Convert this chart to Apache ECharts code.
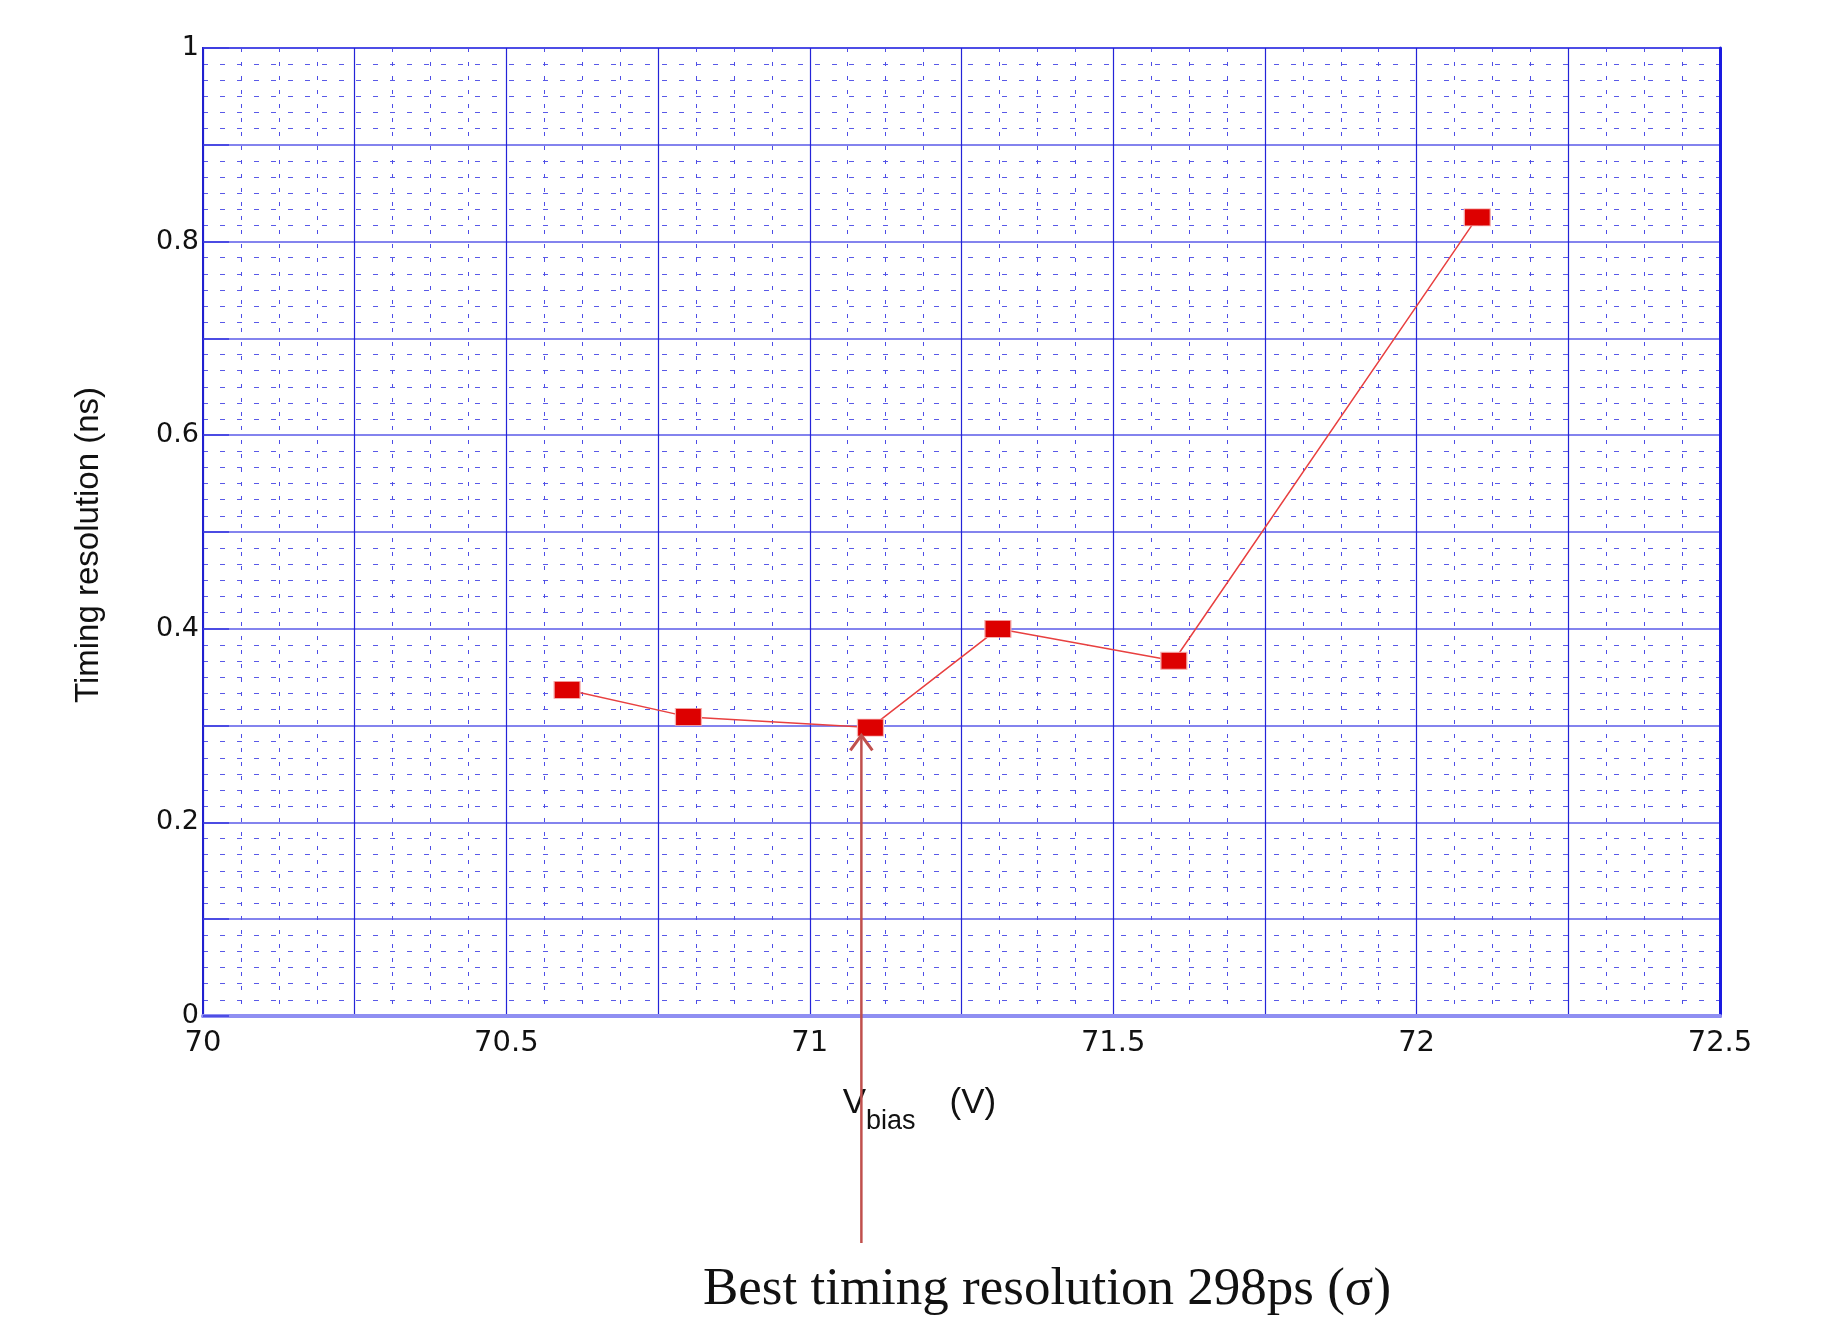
<!DOCTYPE html>
<html>
<head>
<meta charset="utf-8">
<script src="https://cdn.jsdelivr.net/npm/echarts@6/dist/echarts.min.js"></script>
<style>
  html, body { margin: 0; padding: 0; background: #fff; }
  #chart { width: 1831px; height: 1321px; }
</style>
</head>
<body>
<div id="chart"></div>
<script>
// bias voltage (V) and timing resolution (ns)
const vbias = [70.6, 70.8, 71.1, 71.31, 71.6, 72.1];
const timing = [0.337, 0.309, 0.298, 0.400, 0.367, 0.825];

const xTickLabels = ['70', '70.5', '71', '71.5', '72', '72.5'];
const yTickLabels = ['0', '0.2', '0.4', '0.6', '0.8', '1'];

// arrow pointing at the best point: [x, y tip]
const arrowAt = [71.085, 0.29];
const noteText = 'Best timing resolution 298ps (\u03c3)';

const chart = echarts.init(document.getElementById('chart'));

const tickFont = '"DejaVu Sans", "Liberation Sans", sans-serif';

function pickLabel(list) {
  return (v) => {
    const s = String(+(+v).toFixed(3));
    return list.includes(s) ? s : '';
  };
}

const option = {
  animation: false,
  backgroundColor: '#fff',
  grid: {
    left: 203, right: 111, top: 48, bottom: 305,
    show: true, borderColor: '#2a2ade', borderWidth: 2
  },
  xAxis: [{
    type: 'value',
    min: 70, max: 72.5, interval: 0.25,
    name: '{v|V}{s|bias}{u|(V)}',
    nameLocation: 'middle',
    nameGap: 68,
    nameTextStyle: {
      padding: [0, 84, 0, 0],
      rich: {
        v: { fontFamily: 'Liberation Sans', fontSize: 35, lineHeight: 38, color: '#111' },
        s: { fontFamily: 'Liberation Sans', fontSize: 27, lineHeight: 26, color: '#111', padding: [38, 34, 0, 0] },
        u: { fontFamily: 'Liberation Sans', fontSize: 35, lineHeight: 38, color: '#111' }
      }
    },
    axisLine: { show: true, onZero: false, lineStyle: { color: '#6a6af0', width: 3 } },
    axisTick: { show: false },
    axisLabel: {
      formatter: pickLabel(xTickLabels),
      fontFamily: tickFont, fontSize: 29, color: '#111', margin: 13
    },
    splitLine: { show: true, lineStyle: { color: '#2424d8', width: 1.2 } },
    minorTick: { show: false, splitNumber: 4 },
    minorSplitLine: { show: true, lineStyle: { color: '#4d4de6', width: 1, type: [4, 10] } }
  }, {
    type: 'value', position: 'top',
    min: 70, max: 72.5,
    axisLine: { show: true, lineStyle: { color: '#8f8ff2', width: 4 } },
    axisTick: { show: false }, axisLabel: { show: false }, splitLine: { show: false }
  }],
  yAxis: [{
    type: 'value',
    min: 0, max: 1, interval: 0.1,
    name: 'Timing resolution (ns)',
    nameLocation: 'middle',
    nameGap: 98,
    nameTextStyle: {
      fontFamily: '"Liberation Sans Narrow", "Liberation Sans", sans-serif',
      fontSize: 33, color: '#111', padding: [0, 26, 0, 0]
    },
    axisLine: { show: true, lineStyle: { color: '#2020d0', width: 2 } },
    axisTick: { show: true, inside: true, length: 26, lineStyle: { color: '#3a3ae0', width: 1.5 } },
    axisLabel: {
      formatter: pickLabel(yTickLabels),
      fontFamily: tickFont, fontSize: 27, color: '#111', margin: 4
    },
    splitLine: { show: true, lineStyle: { color: '#5a5ae8', width: 1.5 } },
    minorTick: { show: false, splitNumber: 6 },
    minorSplitLine: { show: true, lineStyle: { color: '#5a5ae8', width: 1, type: [5, 12] } }
  }, {
    type: 'value', position: 'right',
    min: 0, max: 1,
    axisLine: { show: true, lineStyle: { color: '#1a1ae0', width: 3 } },
    axisTick: { show: false }, axisLabel: { show: false }, splitLine: { show: false }
  }],
  series: [{
    type: 'line',
    data: vbias.map((v, i) => [v, timing[i]]),
    symbol: 'rect',
    symbolSize: [26, 17],
    showSymbol: true,
    lineStyle: { color: '#e84040', width: 1.5 },
    itemStyle: { color: '#dd0000', borderColor: '#f5b0b0', borderWidth: 1 },
    z: 5
  }]
};

chart.setOption(option);

// arrow and note below the plot
const tip = chart.convertToPixel({ gridIndex: 0 }, arrowAt);
const arrowBottom = 1243;
chart.setOption({
  graphic: [
    {
      type: 'line', z: 10,
      shape: { x1: tip[0], y1: tip[1] + 1, x2: tip[0], y2: arrowBottom },
      style: { stroke: '#c0504d', lineWidth: 2.5 }
    },
    {
      type: 'polyline', z: 10,
      shape: { points: [[tip[0] - 11, tip[1] + 15], [tip[0], tip[1]], [tip[0] + 11, tip[1] + 15]] },
      style: { stroke: '#c0504d', lineWidth: 3, fill: null }
    },
    {
      type: 'text', z: 10,
      x: 1047, y: 1290,
      style: {
        text: noteText,
        font: '53px "Liberation Serif", "Times New Roman", serif',
        fill: '#111',
        textAlign: 'center',
        textVerticalAlign: 'middle'
      }
    }
  ]
});

window.addEventListener('resize', () => chart.resize());
</script>
</body>
</html>
